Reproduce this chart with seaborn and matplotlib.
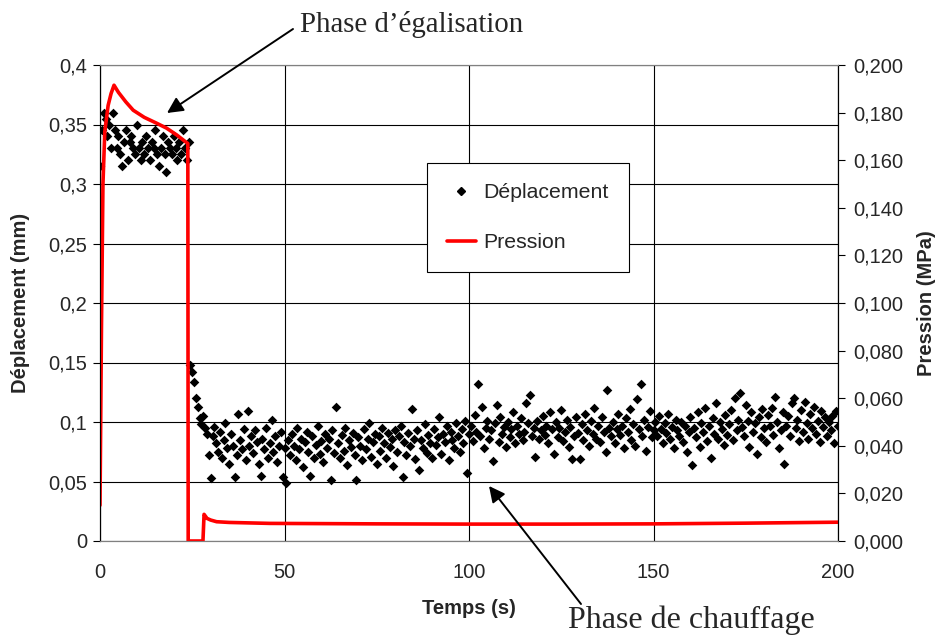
import numpy as np
import pandas as pd
import matplotlib
matplotlib.use("Agg")
import matplotlib.pyplot as plt
import seaborn as sns
from matplotlib.lines import Line2D

# ---------------- data ----------------
STEP = 0.5  # sampling interval of displacement (s)

disp_egal = [0.315, 0.345, 0.36, 0.355, 0.34, 0.35, 0.33, 0.36, 0.345, 0.33,
             0.34, 0.325, 0.315, 0.335, 0.345, 0.32, 0.335, 0.34, 0.33, 0.325,
             0.35, 0.33, 0.32, 0.335, 0.325, 0.34, 0.33, 0.32, 0.335, 0.33,
             0.345, 0.325, 0.315, 0.33, 0.34, 0.325, 0.31, 0.335, 0.33, 0.325,
             0.34, 0.33, 0.32, 0.335, 0.325, 0.345, 0.33, 0.32, 0.335]
disp_drop = [0.148, 0.142, 0.134, 0.12, 0.113, 0.103, 0.098, 0.105]
disp_28_50 = [0.095, 0.09, 0.072, 0.053, 0.088, 0.096, 0.082, 0.075, 0.092, 0.07,
              0.085, 0.099, 0.078, 0.065, 0.09, 0.08, 0.054, 0.072, 0.107, 0.085,
              0.077, 0.094, 0.068, 0.109, 0.08, 0.088, 0.074, 0.093, 0.083, 0.065,
              0.055, 0.086, 0.077, 0.095, 0.07, 0.082, 0.102, 0.075, 0.088, 0.066,
              0.08, 0.092, 0.054, 0.078]
disp_50_100 = [0.049, 0.085, 0.072, 0.09, 0.08, 0.068, 0.095, 0.077, 0.086, 0.062,
               0.083, 0.092, 0.075, 0.055, 0.088, 0.07, 0.081, 0.097, 0.073, 0.084,
               0.066, 0.09, 0.078, 0.086, 0.051, 0.093, 0.074, 0.113, 0.082, 0.07,
               0.089, 0.076, 0.095, 0.064, 0.085, 0.079, 0.091, 0.072, 0.051, 0.087,
               0.08, 0.068, 0.094, 0.077, 0.086, 0.099, 0.071, 0.083, 0.09, 0.065,
               0.088, 0.076, 0.095, 0.082, 0.07, 0.091, 0.079, 0.086, 0.063, 0.093,
               0.075, 0.088, 0.097, 0.0535, 0.083, 0.072, 0.091, 0.08, 0.111, 0.086,
               0.069, 0.093, 0.06, 0.085, 0.078, 0.098, 0.074, 0.089, 0.082, 0.07,
               0.094, 0.081, 0.087, 0.104, 0.073, 0.09, 0.083, 0.097, 0.068, 0.092,
               0.085, 0.078, 0.099, 0.088, 0.075, 0.094, 0.082, 0.101, 0.057, 0.09]
disp_100_150 = [0.097, 0.084, 0.106, 0.092, 0.132, 0.088, 0.113, 0.078, 0.095, 0.101,
                0.086, 0.093, 0.067, 0.099, 0.114, 0.083, 0.104, 0.09, 0.096, 0.079,
                0.1, 0.087, 0.094, 0.108, 0.082, 0.097, 0.09, 0.103, 0.085, 0.092,
                0.116, 0.099, 0.123, 0.088, 0.095, 0.071, 0.101, 0.086, 0.093, 0.105,
                0.089, 0.097, 0.082, 0.108, 0.094, 0.073, 0.1, 0.087, 0.095, 0.11,
                0.084, 0.092, 0.102, 0.079, 0.096, 0.069, 0.088, 0.104, 0.091, 0.069,
                0.098, 0.085, 0.107, 0.093, 0.08, 0.101, 0.09, 0.112, 0.086, 0.097,
                0.083, 0.104, 0.092, 0.075, 0.127, 0.095, 0.088, 0.1, 0.082, 0.094,
                0.107, 0.089, 0.097, 0.078, 0.103, 0.092, 0.111, 0.085, 0.098, 0.08,
                0.119, 0.094, 0.132, 0.088, 0.102, 0.076, 0.096, 0.109, 0.087, 0.093]
disp_150_200 = [0.1, 0.088, 0.105, 0.094, 0.082, 0.099, 0.091, 0.107, 0.086, 0.096,
                0.078, 0.102, 0.093, 0.088, 0.1, 0.083, 0.097, 0.075, 0.092, 0.104,
                0.064, 0.095, 0.087, 0.108, 0.079, 0.099, 0.092, 0.112, 0.084, 0.097,
                0.07, 0.103, 0.09, 0.116, 0.086, 0.1, 0.094, 0.081, 0.106, 0.089,
                0.098, 0.11, 0.085, 0.12, 0.093, 0.102, 0.124, 0.096, 0.088, 0.114,
                0.101, 0.079, 0.108, 0.092, 0.099, 0.073, 0.104, 0.087, 0.111, 0.095,
                0.083, 0.106, 0.097, 0.112, 0.089, 0.121, 0.1, 0.078, 0.093, 0.108,
                0.065, 0.097, 0.105, 0.088, 0.116, 0.12, 0.095, 0.102, 0.084, 0.11,
                0.092, 0.117, 0.099, 0.086, 0.107, 0.095, 0.113, 0.09, 0.101, 0.083,
                0.109, 0.096, 0.104, 0.088, 0.1, 0.093, 0.105, 0.082, 0.109, 0.097]

pres_time = [0, 0.4, 0.8, 1.3, 2.2, 3.0, 3.8, 5.0, 7.0, 9.0, 12.0, 15.4, 18.0,
             20.8, 23.8, 23.9, 27.9, 28.2, 29.0, 30.0, 31.6, 35.0, 46.0, 75.0,
             100.0, 125.0, 150.0, 175.0, 200.0]
pres_val = [0.015, 0.09, 0.15, 0.172, 0.183, 0.188, 0.1915, 0.1885, 0.1845, 0.181,
            0.178, 0.1755, 0.1735, 0.1706, 0.167, 0.0, 0.0, 0.0112, 0.0095, 0.0088,
            0.0081, 0.0078, 0.0074, 0.0072, 0.0071, 0.0071, 0.0072, 0.0075, 0.0079]

x_ticks = [0, 50, 100, 150, 200]
left_ticks = [0, 0.05, 0.1, 0.15, 0.2, 0.25, 0.3, 0.35, 0.4]
right_ticks = [0, 0.02, 0.04, 0.06, 0.08, 0.1, 0.12, 0.14, 0.16, 0.18, 0.2]

disp_all = disp_egal + disp_drop + disp_28_50 + disp_50_100 + disp_100_150 + disp_150_200
df_disp = pd.DataFrame({"t": np.arange(len(disp_all)) * STEP, "d": disp_all})
df_pres = pd.DataFrame({"t": pres_time, "p": pres_val})

# ---------------- plot ----------------
sns.set_style("white")
plt.rcParams["font.family"] = ["Liberation Sans", "DejaVu Sans"]

TICK_FS = 14.5
LAB_FS = 14.5

fig = plt.figure(figsize=(9.35, 6.37), dpi=100)
ax = fig.add_axes([100 / 935, 1 - 541 / 637, 738 / 935, 476 / 637])

ax.set_xlim(0, 200)
ax.set_ylim(0, 0.4)
ax.set_xticks(x_ticks)
ax.set_yticks(left_ticks)
ax.grid(True, color="black", linewidth=0.8)
ax.set_axisbelow(True)

sns.scatterplot(data=df_disp, x="t", y="d", ax=ax, marker="D", s=24,
                color="black", edgecolor="black", linewidth=0, zorder=3,
                legend=False)

ax2 = ax.twinx()
ax2.set_ylim(0, 0.2)
ax2.set_yticks(right_ticks)
sns.lineplot(data=df_pres, x="t", y="p", ax=ax2, color="#ff0000", linewidth=2.6,
             sort=False, estimator=None, legend=False)
ax2.set_xlim(0, 200)

fmt_left = lambda v: ("%g" % v).replace(".", ",")
ax.set_xticklabels([str(v) for v in x_ticks], fontsize=TICK_FS)
ax.set_yticklabels([fmt_left(v) for v in left_ticks], fontsize=TICK_FS)
ax2.set_yticklabels([("%.3f" % v).replace(".", ",") for v in right_ticks], fontsize=TICK_FS)

for a in (ax, ax2):
    a.tick_params(axis="both", direction="out", length=5, width=0.8, color="black")
    for s in a.spines.values():
        s.set_linewidth(0.8)
    a.spines["top"].set_color("#808080")
    a.spines["bottom"].set_color("#808080")
    a.spines["left"].set_color("black")
    a.spines["right"].set_color("black")
ax.tick_params(axis="x", pad=11)
ax.tick_params(axis="y", pad=4)
ax2.tick_params(axis="y", pad=6)

ax.set_xlabel("Temps (s)", fontsize=LAB_FS, fontweight="bold", labelpad=12)
ax.set_ylabel("Déplacement (mm)", fontsize=LAB_FS, fontweight="bold", labelpad=13)
ax2.set_ylabel("Pression (MPa)", fontsize=LAB_FS, fontweight="bold", labelpad=10)

handles = [Line2D([], [], marker="D", color="black", linestyle="none", markersize=4.5),
           Line2D([], [], color="#ff0000", linewidth=2.6)]
leg = ax2.legend(handles, ["Déplacement", "Pression"], loc="upper left",
                 bbox_to_anchor=(0.443, 0.794), fontsize=15.3, frameon=True,
                 fancybox=False, framealpha=1, edgecolor="black",
                 labelspacing=1.45, borderpad=0.95, handlelength=1.35,
                 handletextpad=0.35, borderaxespad=0)
leg.get_frame().set_linewidth(0.8)
leg.set_zorder(10)

serif = ["Liberation Serif", "DejaVu Serif"]
fig.text(300 / 935, 1 - 25 / 637, "Phase d\u2019égalisation", fontsize=20.8,
         family=serif, ha="left", va="center")
fig.text(568 / 935, 1 - 620 / 637, "Phase de chauffage", fontsize=23,
         family=serif, ha="left", va="center")
arrow_kw = dict(arrowstyle="-|>", color="black", lw=1.4, mutation_scale=24,
                shrinkA=0, shrinkB=0)
ax2.annotate("", xy=(167 / 935, 1 - 113 / 637), xycoords="figure fraction",
             xytext=(293 / 935, 1 - 29 / 637), textcoords="figure fraction",
             arrowprops=arrow_kw)
ax2.annotate("", xy=(489 / 935, 1 - 486 / 637), xycoords="figure fraction",
             xytext=(581 / 935, 1 - 604 / 637), textcoords="figure fraction",
             arrowprops=arrow_kw)

fig.savefig("out.png", dpi=100)
